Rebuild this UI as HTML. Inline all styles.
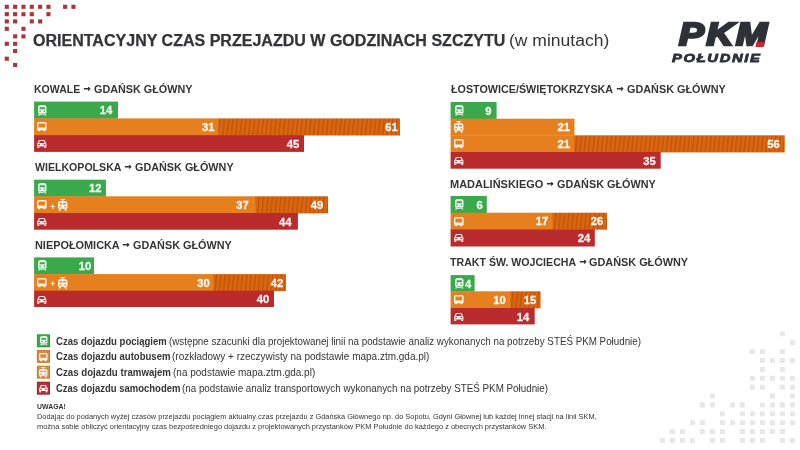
<!DOCTYPE html>
<html lang="pl"><head><meta charset="utf-8"><title>Orientacyjny czas przejazdu w godzinach szczytu</title>
<style>
html,body{margin:0;padding:0}
body{width:800px;height:450px;background:#fff;position:relative;overflow:hidden;font-family:"Liberation Sans",sans-serif;color:#333436}
.t{position:absolute;white-space:nowrap;line-height:1;transform-origin:0 0}
.bars{position:absolute;left:0;top:0}
.num{font-size:11.2px;font-weight:bold;color:rgba(255,255,255,.92);-webkit-text-stroke:.3px rgba(255,255,255,.92)}
.ic{position:absolute;overflow:visible}
.plus{font-size:8.4px;font-weight:bold;color:rgba(255,255,255,.9)}
.pkm{position:absolute;left:679.2px;top:18.1px;font-size:32.2px;line-height:1;font-weight:bold;font-style:italic;color:#2e3138;white-space:nowrap;transform-origin:0 0;transform:scaleX(1.16);-webkit-text-stroke:2.6px #2e3138;letter-spacing:2.2px}
.pol{position:absolute;left:672.2px;top:51.9px;font-size:11.7px;line-height:1;font-weight:bold;font-style:italic;color:#2e3138;white-space:nowrap;transform-origin:0 0;transform:scaleX(1.265);-webkit-text-stroke:.8px #2e3138;letter-spacing:1.3px}
.sq{position:absolute;left:756.3px;top:42.4px;width:7.8px;height:4.6px;background:#d3202b;transform:skewX(-13deg)}
</style></head><body>
<div class="pkm" id="pkm">PKM</div><div class="sq"></div><div class="pol" id="pol">POŁUDNIE</div>
<svg class="bars" width="800" height="450" viewBox="0 0 800 450"><defs><pattern id="hp" width="4.3" height="40" patternUnits="userSpaceOnUse" patternTransform="rotate(6)"><rect width="4.3" height="40" fill="#da6611"/><rect x="2.7" width="1.3" height="40" fill="#bf530a"/></pattern></defs><rect x="4.75" y="4.75" width="4.1" height="4.1" fill="#ab343b"/><rect x="13.08" y="4.75" width="4.1" height="4.1" fill="#ab343b"/><rect x="21.41" y="4.75" width="4.1" height="4.1" fill="#ab343b"/><rect x="29.74" y="4.75" width="4.1" height="4.1" fill="#ab343b"/><rect x="38.07" y="4.75" width="4.1" height="4.1" fill="#ab343b"/><rect x="46.40" y="4.75" width="4.1" height="4.1" fill="#ab343b"/><rect x="63.06" y="4.75" width="4.1" height="4.1" fill="#ab343b"/><rect x="71.39" y="4.75" width="4.1" height="4.1" fill="#ab343b"/><rect x="4.75" y="12.15" width="4.1" height="4.1" fill="#ab343b"/><rect x="13.08" y="12.15" width="4.1" height="4.1" fill="#ab343b"/><rect x="21.41" y="12.15" width="4.1" height="4.1" fill="#ab343b"/><rect x="29.74" y="12.15" width="4.1" height="4.1" fill="#ab343b"/><rect x="46.40" y="12.15" width="4.1" height="4.1" fill="#ab343b"/><rect x="4.75" y="19.35" width="4.1" height="4.1" fill="#ab343b"/><rect x="13.08" y="19.35" width="4.1" height="4.1" fill="#ab343b"/><rect x="29.74" y="19.35" width="4.1" height="4.1" fill="#ab343b"/><rect x="38.07" y="19.35" width="4.1" height="4.1" fill="#ab343b"/><rect x="4.75" y="26.75" width="4.1" height="4.1" fill="#ab343b"/><rect x="21.41" y="26.75" width="4.1" height="4.1" fill="#ab343b"/><rect x="13.08" y="34.35" width="4.1" height="4.1" fill="#ab343b"/><rect x="21.41" y="34.35" width="4.1" height="4.1" fill="#ab343b"/><rect x="4.75" y="41.75" width="4.1" height="4.1" fill="#ab343b"/><rect x="13.08" y="41.75" width="4.1" height="4.1" fill="#ab343b"/><rect x="13.08" y="48.95" width="4.1" height="4.1" fill="#ab343b"/><rect x="4.75" y="56.65" width="4.1" height="4.1" fill="#ab343b"/><rect x="13.08" y="62.95" width="4.1" height="4.1" fill="#ab343b"/><rect x="779.90" y="331.40" width="5" height="4.8" fill="#e7e7e7"/><rect x="789.90" y="340.29" width="5" height="4.8" fill="#e7e7e7"/><rect x="749.90" y="349.18" width="5" height="4.8" fill="#e7e7e7"/><rect x="759.90" y="349.18" width="5" height="4.8" fill="#e7e7e7"/><rect x="779.90" y="349.18" width="5" height="4.8" fill="#e7e7e7"/><rect x="759.90" y="358.07" width="5" height="4.8" fill="#e7e7e7"/><rect x="769.90" y="358.07" width="5" height="4.8" fill="#e7e7e7"/><rect x="779.90" y="358.07" width="5" height="4.8" fill="#e7e7e7"/><rect x="789.90" y="358.07" width="5" height="4.8" fill="#e7e7e7"/><rect x="759.90" y="366.96" width="5" height="4.8" fill="#e7e7e7"/><rect x="779.90" y="366.96" width="5" height="4.8" fill="#e7e7e7"/><rect x="749.90" y="375.85" width="5" height="4.8" fill="#e7e7e7"/><rect x="759.90" y="375.85" width="5" height="4.8" fill="#e7e7e7"/><rect x="769.90" y="375.85" width="5" height="4.8" fill="#e7e7e7"/><rect x="779.90" y="375.85" width="5" height="4.8" fill="#e7e7e7"/><rect x="789.90" y="375.85" width="5" height="4.8" fill="#e7e7e7"/><rect x="749.90" y="384.74" width="5" height="4.8" fill="#e7e7e7"/><rect x="759.90" y="384.74" width="5" height="4.8" fill="#e7e7e7"/><rect x="779.90" y="384.74" width="5" height="4.8" fill="#e7e7e7"/><rect x="789.90" y="384.74" width="5" height="4.8" fill="#e7e7e7"/><rect x="709.90" y="393.63" width="5" height="4.8" fill="#e7e7e7"/><rect x="769.90" y="393.63" width="5" height="4.8" fill="#e7e7e7"/><rect x="789.90" y="393.63" width="5" height="4.8" fill="#e7e7e7"/><rect x="699.90" y="402.52" width="5" height="4.8" fill="#e7e7e7"/><rect x="709.90" y="402.52" width="5" height="4.8" fill="#e7e7e7"/><rect x="729.90" y="402.52" width="5" height="4.8" fill="#e7e7e7"/><rect x="739.90" y="402.52" width="5" height="4.8" fill="#e7e7e7"/><rect x="759.90" y="402.52" width="5" height="4.8" fill="#e7e7e7"/><rect x="769.90" y="402.52" width="5" height="4.8" fill="#e7e7e7"/><rect x="779.90" y="402.52" width="5" height="4.8" fill="#e7e7e7"/><rect x="789.90" y="402.52" width="5" height="4.8" fill="#e7e7e7"/><rect x="719.90" y="411.41" width="5" height="4.8" fill="#e7e7e7"/><rect x="739.90" y="411.41" width="5" height="4.8" fill="#e7e7e7"/><rect x="749.90" y="411.41" width="5" height="4.8" fill="#e7e7e7"/><rect x="759.90" y="411.41" width="5" height="4.8" fill="#e7e7e7"/><rect x="769.90" y="411.41" width="5" height="4.8" fill="#e7e7e7"/><rect x="779.90" y="411.41" width="5" height="4.8" fill="#e7e7e7"/><rect x="789.90" y="411.41" width="5" height="4.8" fill="#e7e7e7"/><rect x="689.90" y="420.30" width="5" height="4.8" fill="#e7e7e7"/><rect x="699.90" y="420.30" width="5" height="4.8" fill="#e7e7e7"/><rect x="719.90" y="420.30" width="5" height="4.8" fill="#e7e7e7"/><rect x="729.90" y="420.30" width="5" height="4.8" fill="#e7e7e7"/><rect x="739.90" y="420.30" width="5" height="4.8" fill="#e7e7e7"/><rect x="749.90" y="420.30" width="5" height="4.8" fill="#e7e7e7"/><rect x="759.90" y="420.30" width="5" height="4.8" fill="#e7e7e7"/><rect x="769.90" y="420.30" width="5" height="4.8" fill="#e7e7e7"/><rect x="779.90" y="420.30" width="5" height="4.8" fill="#e7e7e7"/><rect x="789.90" y="420.30" width="5" height="4.8" fill="#e7e7e7"/><rect x="669.90" y="429.19" width="5" height="4.8" fill="#e7e7e7"/><rect x="679.90" y="429.19" width="5" height="4.8" fill="#e7e7e7"/><rect x="699.90" y="429.19" width="5" height="4.8" fill="#e7e7e7"/><rect x="709.90" y="429.19" width="5" height="4.8" fill="#e7e7e7"/><rect x="719.90" y="429.19" width="5" height="4.8" fill="#e7e7e7"/><rect x="739.90" y="429.19" width="5" height="4.8" fill="#e7e7e7"/><rect x="749.90" y="429.19" width="5" height="4.8" fill="#e7e7e7"/><rect x="759.90" y="429.19" width="5" height="4.8" fill="#e7e7e7"/><rect x="769.90" y="429.19" width="5" height="4.8" fill="#e7e7e7"/><rect x="779.90" y="429.19" width="5" height="4.8" fill="#e7e7e7"/><rect x="659.90" y="438.08" width="5" height="4.8" fill="#e7e7e7"/><rect x="669.90" y="438.08" width="5" height="4.8" fill="#e7e7e7"/><rect x="679.90" y="438.08" width="5" height="4.8" fill="#e7e7e7"/><rect x="689.90" y="438.08" width="5" height="4.8" fill="#e7e7e7"/><rect x="709.90" y="438.08" width="5" height="4.8" fill="#e7e7e7"/><rect x="719.90" y="438.08" width="5" height="4.8" fill="#e7e7e7"/><rect x="739.90" y="438.08" width="5" height="4.8" fill="#e7e7e7"/><rect x="749.90" y="438.08" width="5" height="4.8" fill="#e7e7e7"/><rect x="759.90" y="438.08" width="5" height="4.8" fill="#e7e7e7"/><rect x="779.90" y="438.08" width="5" height="4.8" fill="#e7e7e7"/><rect x="789.90" y="438.08" width="5" height="4.8" fill="#e7e7e7"/><rect x="34.1" y="101.60" width="83.90" height="17.20" fill="#3aa94b"/><rect x="34.1" y="118.40" width="184.90" height="17.10" fill="#e6801f"/><rect x="218.5" y="118.40" width="181.50" height="17.10" fill="url(#hp)"/><rect x="34.1" y="135.10" width="269.90" height="16.80" fill="#ba2b2d"/><rect x="34.1" y="179.70" width="71.80" height="17.00" fill="#3aa94b"/><rect x="34.1" y="196.30" width="221.90" height="17.10" fill="#e6801f"/><rect x="255.5" y="196.30" width="72.50" height="17.10" fill="url(#hp)"/><rect x="34.1" y="213.00" width="263.80" height="16.70" fill="#ba2b2d"/><rect x="34.1" y="257.40" width="59.90" height="17.10" fill="#3aa94b"/><rect x="34.1" y="274.10" width="179.90" height="17.00" fill="#e6801f"/><rect x="213.5" y="274.10" width="72.40" height="17.00" fill="url(#hp)"/><rect x="34.1" y="290.70" width="239.90" height="16.30" fill="#ba2b2d"/><rect x="450.6" y="102.00" width="46.00" height="17.10" fill="#3aa94b"/><rect x="450.6" y="118.70" width="123.90" height="17.00" fill="#e6801f"/><rect x="450.6" y="135.30" width="123.90" height="17.10" fill="#e6801f"/><rect x="574.0" y="135.30" width="210.70" height="17.10" fill="url(#hp)"/><rect x="450.6" y="152.00" width="210.10" height="16.70" fill="#ba2b2d"/><rect x="450.6" y="196.00" width="36.20" height="17.10" fill="#3aa94b"/><rect x="450.6" y="212.70" width="102.40" height="17.00" fill="#e6801f"/><rect x="552.5" y="212.70" width="54.50" height="17.00" fill="url(#hp)"/><rect x="450.6" y="229.30" width="144.20" height="17.20" fill="#ba2b2d"/><rect x="450.6" y="275.10" width="24.00" height="16.60" fill="#3aa94b"/><rect x="450.6" y="291.30" width="60.40" height="17.10" fill="#e6801f"/><rect x="510.5" y="291.30" width="30.10" height="17.10" fill="url(#hp)"/><rect x="450.6" y="308.00" width="84.10" height="16.40" fill="#ba2b2d"/><rect x="36.9" y="334.3" width="13.1" height="13" fill="#2c9a43"/><rect x="37.9" y="335.3" width="11.1" height="11" fill="#39a850"/><rect x="36.9" y="349.9" width="13.1" height="13" fill="#cb7e32"/><rect x="37.9" y="350.9" width="11.1" height="11" fill="#d68b42"/><rect x="36.9" y="365.7" width="13.1" height="13" fill="#cb7e32"/><rect x="37.9" y="366.7" width="11.1" height="11" fill="#d68b42"/><rect x="36.9" y="381.7" width="13.1" height="13" fill="#a2262a"/><rect x="37.9" y="382.7" width="11.1" height="11" fill="#b03034"/></svg>
<svg class="ic" style="left:38.10px;top:104.50px" width="8.5" height="10.5" viewBox="0 0 8.5 10.5" fill="rgba(255,255,255,.9)"><path fill-rule="evenodd" d="M2.4 0h3.700c1.400 0 2.400 1 2.400 2.400v5c0 .6-.4 1-1 1h-6.500c-.6 0-1-.4-1-1v-5c0-1.400 1-2.400 2.400-2.400zM1.600 2.300v1.900h5.300v-1.900zM1.300 5.600v1.200h1.600v-1.200zM5.600 5.600v1.200h1.600v-1.200z"/><path d="M1.200 8.400h1.700l-1.200 2.100h-1.700zM7.300 8.400h-1.700l1.200 2.100h1.700zM1.800 8.900h4.900v.9h-4.900z"/></svg><svg class="ic" style="left:37.10px;top:122.20px" width="9.6" height="9.2" viewBox="0 0 9.6 9.2" fill="rgba(255,255,255,.9)"><path fill-rule="evenodd" d="M1.800 0h6c1 0 1.800 .8 1.800 1.800v5.400c0 .6-.4 1-1 1h-7.600c-.6 0-1-.4-1-1v-5.400c0-1 .8-1.800 1.800-1.800zM1.400 1.400v4.100h6.800v-4.100z"/><rect x="1.200" y="8" width="2" height="1.200"/><rect x="6.400" y="8" width="2" height="1.200"/></svg><svg class="ic" style="left:37.10px;top:139.90px" width="9.5" height="8" viewBox="0 0 9.5 8" fill="rgba(255,255,255,.9)"><path fill-rule="evenodd" d="M2.600 0h4.300c.5 0 .9 .3 1.100 .8l.9 2.300c.4 .2 .6 .6 .6 1v2.500h-9.500v-2.500c0-.4 .2-.8 .6-1l.9-2.300c.2-.5 .6-.8 1.100-.8zM2.700 1.100l-.7 1.800h5.500l-.7-1.800zM1.200 4v1.100h1.700v-1.100zM6.600 4v1.100h1.700v-1.100z"/><rect x=".3" y="6.600" width="2" height="1.400"/><rect x="7.200" y="6.600" width="2" height="1.400"/></svg><svg class="ic" style="left:38.10px;top:182.60px" width="8.5" height="10.5" viewBox="0 0 8.5 10.5" fill="rgba(255,255,255,.9)"><path fill-rule="evenodd" d="M2.4 0h3.700c1.400 0 2.400 1 2.400 2.400v5c0 .6-.4 1-1 1h-6.500c-.6 0-1-.4-1-1v-5c0-1.400 1-2.400 2.400-2.400zM1.600 2.300v1.900h5.300v-1.900zM1.300 5.600v1.200h1.600v-1.200zM5.600 5.600v1.200h1.600v-1.200z"/><path d="M1.200 8.400h1.700l-1.200 2.100h-1.700zM7.300 8.400h-1.700l1.200 2.100h1.700zM1.800 8.900h4.900v.9h-4.900z"/></svg><svg class="ic" style="left:37.10px;top:200.10px" width="9.6" height="9.2" viewBox="0 0 9.6 9.2" fill="rgba(255,255,255,.9)"><path fill-rule="evenodd" d="M1.800 0h6c1 0 1.800 .8 1.800 1.800v5.400c0 .6-.4 1-1 1h-7.600c-.6 0-1-.4-1-1v-5.400c0-1 .8-1.800 1.800-1.800zM1.400 1.400v4.100h6.800v-4.100z"/><rect x="1.200" y="8" width="2" height="1.200"/><rect x="6.400" y="8" width="2" height="1.200"/></svg><div class="t plus" style="left:50.20px;top:203px">+</div><svg class="ic" style="left:58.20px;top:198.80px" width="9.4" height="11.8" viewBox="0 0 9.4 11.8" fill="rgba(255,255,255,.9)"><path d="M2.300 0h4.800v1.100h-1.700v1.500h-1.400v-1.500h-1.700z"/><path fill-rule="evenodd" d="M2.100 2.300h5.200c1.200 0 2.100 .9 2.100 2.100v4.400c0 .6-.4 1-1 1h-7.400c-.6 0-1-.4-1-1v-4.400c0-1.200 .9-2.100 2.100-2.100zM1.400 4.100v1.500h2.800v-1.500zM5.200 4.100v1.500h2.800v-1.500zM1.300 7.300v1.100h1.600v-1.100zM6.500 7.300v1.100h1.600v-1.100z"/><path d="M1.400 9.700h1.800l-.9 2.100h-1.800zM8 9.700h-1.800l.9 2.100h1.800z"/></svg><svg class="ic" style="left:37.10px;top:217.80px" width="9.5" height="8" viewBox="0 0 9.5 8" fill="rgba(255,255,255,.9)"><path fill-rule="evenodd" d="M2.600 0h4.300c.5 0 .9 .3 1.100 .8l.9 2.300c.4 .2 .6 .6 .6 1v2.500h-9.500v-2.500c0-.4 .2-.8 .6-1l.9-2.300c.2-.5 .6-.8 1.100-.8zM2.700 1.100l-.7 1.800h5.500l-.7-1.800zM1.200 4v1.100h1.700v-1.100zM6.600 4v1.100h1.700v-1.100z"/><rect x=".3" y="6.600" width="2" height="1.400"/><rect x="7.200" y="6.600" width="2" height="1.400"/></svg><svg class="ic" style="left:38.10px;top:260.30px" width="8.5" height="10.5" viewBox="0 0 8.5 10.5" fill="rgba(255,255,255,.9)"><path fill-rule="evenodd" d="M2.4 0h3.700c1.400 0 2.400 1 2.400 2.400v5c0 .6-.4 1-1 1h-6.500c-.6 0-1-.4-1-1v-5c0-1.400 1-2.400 2.400-2.400zM1.600 2.300v1.900h5.300v-1.900zM1.300 5.600v1.200h1.600v-1.200zM5.600 5.600v1.200h1.600v-1.200z"/><path d="M1.200 8.400h1.700l-1.200 2.100h-1.700zM7.300 8.400h-1.700l1.200 2.100h1.700zM1.800 8.900h4.900v.9h-4.900z"/></svg><svg class="ic" style="left:37.10px;top:277.90px" width="9.6" height="9.2" viewBox="0 0 9.6 9.2" fill="rgba(255,255,255,.9)"><path fill-rule="evenodd" d="M1.800 0h6c1 0 1.800 .8 1.800 1.800v5.400c0 .6-.4 1-1 1h-7.600c-.6 0-1-.4-1-1v-5.400c0-1 .8-1.800 1.800-1.800zM1.400 1.400v4.100h6.800v-4.100z"/><rect x="1.200" y="8" width="2" height="1.200"/><rect x="6.400" y="8" width="2" height="1.200"/></svg><div class="t plus" style="left:50.20px;top:280px">+</div><svg class="ic" style="left:58.20px;top:276.60px" width="9.4" height="11.8" viewBox="0 0 9.4 11.8" fill="rgba(255,255,255,.9)"><path d="M2.300 0h4.800v1.100h-1.700v1.500h-1.400v-1.500h-1.700z"/><path fill-rule="evenodd" d="M2.100 2.300h5.200c1.200 0 2.100 .9 2.100 2.100v4.400c0 .6-.4 1-1 1h-7.400c-.6 0-1-.4-1-1v-4.400c0-1.200 .9-2.100 2.100-2.100zM1.400 4.100v1.500h2.800v-1.500zM5.200 4.100v1.500h2.800v-1.500zM1.300 7.300v1.100h1.600v-1.100zM6.500 7.300v1.100h1.600v-1.100z"/><path d="M1.400 9.700h1.800l-.9 2.100h-1.800zM8 9.700h-1.800l.9 2.100h1.800z"/></svg><svg class="ic" style="left:37.10px;top:295.50px" width="9.5" height="8" viewBox="0 0 9.5 8" fill="rgba(255,255,255,.9)"><path fill-rule="evenodd" d="M2.600 0h4.300c.5 0 .9 .3 1.100 .8l.9 2.300c.4 .2 .6 .6 .6 1v2.500h-9.500v-2.500c0-.4 .2-.8 .6-1l.9-2.300c.2-.5 .6-.8 1.100-.8zM2.700 1.100l-.7 1.800h5.500l-.7-1.800zM1.200 4v1.100h1.700v-1.100zM6.600 4v1.100h1.700v-1.100z"/><rect x=".3" y="6.600" width="2" height="1.400"/><rect x="7.200" y="6.600" width="2" height="1.400"/></svg><svg class="ic" style="left:454.60px;top:104.90px" width="8.5" height="10.5" viewBox="0 0 8.5 10.5" fill="rgba(255,255,255,.9)"><path fill-rule="evenodd" d="M2.4 0h3.700c1.400 0 2.400 1 2.400 2.400v5c0 .6-.4 1-1 1h-6.500c-.6 0-1-.4-1-1v-5c0-1.400 1-2.400 2.400-2.400zM1.600 2.300v1.900h5.300v-1.900zM1.300 5.600v1.200h1.600v-1.200zM5.600 5.600v1.200h1.600v-1.200z"/><path d="M1.200 8.400h1.700l-1.200 2.100h-1.700zM7.300 8.400h-1.700l1.200 2.100h1.700zM1.800 8.900h4.900v.9h-4.900z"/></svg><svg class="ic" style="left:454.20px;top:121.30px" width="9.4" height="11.8" viewBox="0 0 9.4 11.8" fill="rgba(255,255,255,.9)"><path d="M2.300 0h4.800v1.100h-1.700v1.500h-1.400v-1.500h-1.700z"/><path fill-rule="evenodd" d="M2.100 2.300h5.200c1.200 0 2.100 .9 2.100 2.100v4.400c0 .6-.4 1-1 1h-7.400c-.6 0-1-.4-1-1v-4.400c0-1.200 .9-2.100 2.100-2.100zM1.400 4.100v1.500h2.800v-1.500zM5.200 4.100v1.500h2.800v-1.500zM1.300 7.300v1.100h1.600v-1.100zM6.500 7.300v1.100h1.600v-1.100z"/><path d="M1.400 9.700h1.800l-.9 2.100h-1.800zM8 9.700h-1.800l.9 2.100h1.800z"/></svg><svg class="ic" style="left:453.60px;top:139.10px" width="9.6" height="9.2" viewBox="0 0 9.6 9.2" fill="rgba(255,255,255,.9)"><path fill-rule="evenodd" d="M1.800 0h6c1 0 1.800 .8 1.800 1.800v5.400c0 .6-.4 1-1 1h-7.600c-.6 0-1-.4-1-1v-5.400c0-1 .8-1.800 1.800-1.800zM1.400 1.400v4.100h6.800v-4.100z"/><rect x="1.200" y="8" width="2" height="1.200"/><rect x="6.400" y="8" width="2" height="1.200"/></svg><svg class="ic" style="left:453.60px;top:156.80px" width="9.5" height="8" viewBox="0 0 9.5 8" fill="rgba(255,255,255,.9)"><path fill-rule="evenodd" d="M2.600 0h4.300c.5 0 .9 .3 1.100 .8l.9 2.300c.4 .2 .6 .6 .6 1v2.500h-9.500v-2.500c0-.4 .2-.8 .6-1l.9-2.300c.2-.5 .6-.8 1.100-.8zM2.700 1.100l-.7 1.800h5.500l-.7-1.800zM1.200 4v1.100h1.700v-1.100zM6.600 4v1.100h1.700v-1.100z"/><rect x=".3" y="6.600" width="2" height="1.400"/><rect x="7.200" y="6.600" width="2" height="1.400"/></svg><svg class="ic" style="left:454.60px;top:198.90px" width="8.5" height="10.5" viewBox="0 0 8.5 10.5" fill="rgba(255,255,255,.9)"><path fill-rule="evenodd" d="M2.4 0h3.700c1.400 0 2.400 1 2.400 2.400v5c0 .6-.4 1-1 1h-6.500c-.6 0-1-.4-1-1v-5c0-1.400 1-2.400 2.400-2.400zM1.600 2.300v1.900h5.300v-1.900zM1.300 5.600v1.200h1.600v-1.200zM5.600 5.600v1.200h1.600v-1.200z"/><path d="M1.200 8.400h1.700l-1.200 2.100h-1.700zM7.300 8.400h-1.700l1.200 2.100h1.700zM1.800 8.900h4.900v.9h-4.900z"/></svg><svg class="ic" style="left:453.60px;top:216.50px" width="9.6" height="9.2" viewBox="0 0 9.6 9.2" fill="rgba(255,255,255,.9)"><path fill-rule="evenodd" d="M1.800 0h6c1 0 1.800 .8 1.800 1.800v5.400c0 .6-.4 1-1 1h-7.600c-.6 0-1-.4-1-1v-5.400c0-1 .8-1.800 1.800-1.800zM1.400 1.400v4.100h6.800v-4.100z"/><rect x="1.200" y="8" width="2" height="1.200"/><rect x="6.400" y="8" width="2" height="1.200"/></svg><svg class="ic" style="left:453.60px;top:234.10px" width="9.5" height="8" viewBox="0 0 9.5 8" fill="rgba(255,255,255,.9)"><path fill-rule="evenodd" d="M2.600 0h4.300c.5 0 .9 .3 1.100 .8l.9 2.300c.4 .2 .6 .6 .6 1v2.500h-9.500v-2.500c0-.4 .2-.8 .6-1l.9-2.300c.2-.5 .6-.8 1.100-.8zM2.700 1.100l-.7 1.800h5.500l-.7-1.800zM1.200 4v1.100h1.700v-1.100zM6.600 4v1.100h1.700v-1.100z"/><rect x=".3" y="6.600" width="2" height="1.400"/><rect x="7.200" y="6.600" width="2" height="1.400"/></svg><svg class="ic" style="left:454.60px;top:278.00px" width="8.5" height="10.5" viewBox="0 0 8.5 10.5" fill="rgba(255,255,255,.9)"><path fill-rule="evenodd" d="M2.4 0h3.700c1.400 0 2.400 1 2.400 2.400v5c0 .6-.4 1-1 1h-6.500c-.6 0-1-.4-1-1v-5c0-1.400 1-2.400 2.400-2.400zM1.600 2.300v1.900h5.300v-1.900zM1.300 5.600v1.200h1.600v-1.200zM5.600 5.600v1.200h1.600v-1.200z"/><path d="M1.200 8.400h1.700l-1.200 2.100h-1.700zM7.300 8.400h-1.700l1.200 2.100h1.700zM1.800 8.900h4.900v.9h-4.900z"/></svg><svg class="ic" style="left:453.60px;top:295.10px" width="9.6" height="9.2" viewBox="0 0 9.6 9.2" fill="rgba(255,255,255,.9)"><path fill-rule="evenodd" d="M1.800 0h6c1 0 1.800 .8 1.800 1.800v5.400c0 .6-.4 1-1 1h-7.600c-.6 0-1-.4-1-1v-5.400c0-1 .8-1.800 1.800-1.800zM1.400 1.400v4.100h6.800v-4.100z"/><rect x="1.200" y="8" width="2" height="1.200"/><rect x="6.400" y="8" width="2" height="1.200"/></svg><svg class="ic" style="left:453.60px;top:312.80px" width="9.5" height="8" viewBox="0 0 9.5 8" fill="rgba(255,255,255,.9)"><path fill-rule="evenodd" d="M2.600 0h4.300c.5 0 .9 .3 1.100 .8l.9 2.300c.4 .2 .6 .6 .6 1v2.500h-9.500v-2.500c0-.4 .2-.8 .6-1l.9-2.300c.2-.5 .6-.8 1.100-.8zM2.700 1.100l-.7 1.800h5.500l-.7-1.800zM1.200 4v1.100h1.700v-1.100zM6.600 4v1.100h1.700v-1.100z"/><rect x=".3" y="6.600" width="2" height="1.400"/><rect x="7.200" y="6.600" width="2" height="1.400"/></svg>
<div class="t num" style="left:99.76px;top:105px;transform:scaleX(1.0)">14</div><div class="t num" style="left:385.26px;top:122px;transform:scaleX(1.0)">61</div><div class="t num" style="left:202.06px;top:122px;transform:scaleX(1.0)">31</div><div class="t num" style="left:286.76px;top:139px;transform:scaleX(1.0)">45</div><div class="t num" style="left:88.96px;top:183px;transform:scaleX(1.0)">12</div><div class="t num" style="left:310.86px;top:200px;transform:scaleX(1.0)">49</div><div class="t num" style="left:236.26px;top:200px;transform:scaleX(1.0)">37</div><div class="t num" style="left:279.01px;top:217px;transform:scaleX(1.0)">44</div><div class="t num" style="left:78.86px;top:261px;transform:scaleX(1.0)">10</div><div class="t num" style="left:270.86px;top:278px;transform:scaleX(1.0)">42</div><div class="t num" style="left:197.16px;top:278px;transform:scaleX(1.0)">30</div><div class="t num" style="left:256.86px;top:294px;transform:scaleX(1.0)">40</div><div class="t num" style="left:485.23px;top:106px;transform:scaleX(1.0)">9</div><div class="t num" style="left:557.51px;top:122px;transform:scaleX(1.0)">21</div><div class="t num" style="left:767.36px;top:139px;transform:scaleX(1.0)">56</div><div class="t num" style="left:557.51px;top:139px;transform:scaleX(1.0)">21</div><div class="t num" style="left:643.36px;top:156px;transform:scaleX(1.0)">35</div><div class="t num" style="left:476.58px;top:200px;transform:scaleX(1.0)">6</div><div class="t num" style="left:590.76px;top:216px;transform:scaleX(1.0)">26</div><div class="t num" style="left:535.76px;top:216px;transform:scaleX(1.0)">17</div><div class="t num" style="left:577.76px;top:233px;transform:scaleX(1.0)">24</div><div class="t num" style="left:465.08px;top:279px;transform:scaleX(1.0)">4</div><div class="t num" style="left:523.76px;top:295px;transform:scaleX(1.0)">15</div><div class="t num" style="left:493.26px;top:295px;transform:scaleX(1.0)">10</div><div class="t num" style="left:516.66px;top:312px;transform:scaleX(1.0)">14</div>
<svg class="ic" style="left:39.80px;top:336.40px" width="7.5" height="9.3" viewBox="0 0 8.5 10.5" fill="rgba(255,255,255,.9)"><path fill-rule="evenodd" d="M2.4 0h3.700c1.400 0 2.400 1 2.400 2.400v5c0 .6-.4 1-1 1h-6.500c-.6 0-1-.4-1-1v-5c0-1.400 1-2.400 2.400-2.400zM1.600 2.300v1.900h5.300v-1.900zM1.300 5.600v1.200h1.600v-1.200zM5.600 5.600v1.200h1.600v-1.200z"/><path d="M1.200 8.400h1.700l-1.200 2.100h-1.700zM7.300 8.400h-1.700l1.200 2.100h1.700zM1.800 8.900h4.900v.9h-4.900z"/></svg><svg class="ic" style="left:39.00px;top:352.60px" width="8.5" height="8.1" viewBox="0 0 9.6 9.2" fill="rgba(255,255,255,.9)"><path fill-rule="evenodd" d="M1.800 0h6c1 0 1.800 .8 1.800 1.800v5.400c0 .6-.4 1-1 1h-7.600c-.6 0-1-.4-1-1v-5.400c0-1 .8-1.800 1.800-1.800zM1.400 1.400v4.100h6.800v-4.100z"/><rect x="1.200" y="8" width="2" height="1.200"/><rect x="6.400" y="8" width="2" height="1.200"/></svg><svg class="ic" style="left:39.00px;top:367.20px" width="8.4" height="10.6" viewBox="0 0 9.4 11.8" fill="rgba(255,255,255,.9)"><path d="M2.300 0h4.800v1.100h-1.700v1.500h-1.400v-1.500h-1.700z"/><path fill-rule="evenodd" d="M2.100 2.300h5.200c1.200 0 2.100 .9 2.100 2.100v4.400c0 .6-.4 1-1 1h-7.400c-.6 0-1-.4-1-1v-4.400c0-1.200 .9-2.100 2.100-2.100zM1.400 4.100v1.500h2.800v-1.500zM5.200 4.100v1.500h2.800v-1.500zM1.300 7.300v1.100h1.600v-1.100zM6.500 7.300v1.100h1.600v-1.100z"/><path d="M1.400 9.700h1.800l-.9 2.100h-1.800zM8 9.700h-1.800l.9 2.100h1.800z"/></svg><svg class="ic" style="left:38.90px;top:384.80px" width="8.8" height="7.4" viewBox="0 0 9.5 8" fill="rgba(255,255,255,.9)"><path fill-rule="evenodd" d="M2.600 0h4.300c.5 0 .9 .3 1.100 .8l.9 2.300c.4 .2 .6 .6 .6 1v2.500h-9.500v-2.500c0-.4 .2-.8 .6-1l.9-2.300c.2-.5 .6-.8 1.100-.8zM2.700 1.100l-.7 1.800h5.500l-.7-1.800zM1.200 4v1.100h1.700v-1.100zM6.600 4v1.100h1.700v-1.100z"/><rect x=".3" y="6.600" width="2" height="1.400"/><rect x="7.200" y="6.600" width="2" height="1.400"/></svg>
<div class="t" id="title" style="left:33.49px;top:33px;font-size:15.60px;font-weight:bold;color:#333436;transform:scaleX(1.0280);-webkit-text-stroke:.25px;">ORIENTACYJNY CZAS PRZEJAZDU W GODZINACH SZCZYTU</div><div class="t" id="title2" style="left:509.28px;top:33px;font-size:15.60px;font-weight:normal;color:#333436;transform:scaleX(1.1233);">(w minutach)</div><div class="t" id="h1lw" style="left:34.15px;top:84px;font-size:10.90px;font-weight:bold;color:#333436;transform:scaleX(0.9686);">KOWALE</div><div class="t" id="h1lg" style="left:94.30px;top:84px;font-size:10.90px;font-weight:bold;color:#333436;transform:scaleX(0.9919);">GDAŃSK GŁÓWNY</div><div class="t" id="h1la" style="left:82.48px;top:81px;font-size:12.20px;font-weight:bold;color:#333436;transform:scaleX(0.8082);-webkit-text-stroke:.9px;">→</div><div class="t" id="h2lw" style="left:34.50px;top:162px;font-size:10.90px;font-weight:bold;color:#333436;transform:scaleX(0.9716);">WIELKOPOLSKA</div><div class="t" id="h2lg" style="left:135.00px;top:162px;font-size:10.90px;font-weight:bold;color:#333436;transform:scaleX(0.9939);">GDAŃSK GŁÓWNY</div><div class="t" id="h2la" style="left:123.16px;top:159px;font-size:12.20px;font-weight:bold;color:#333436;transform:scaleX(0.8082);-webkit-text-stroke:.9px;">→</div><div class="t" id="h3lw" style="left:34.53px;top:240px;font-size:10.90px;font-weight:bold;color:#333436;transform:scaleX(1.0004);">NIEPOŁOMICKA</div><div class="t" id="h3lg" style="left:132.75px;top:240px;font-size:10.90px;font-weight:bold;color:#333436;transform:scaleX(0.9954);">GDAŃSK GŁÓWNY</div><div class="t" id="h3la" style="left:121.16px;top:237px;font-size:12.20px;font-weight:bold;color:#333436;transform:scaleX(0.8082);-webkit-text-stroke:.9px;">→</div><div class="t" id="h1rw" style="left:451.00px;top:84px;font-size:10.90px;font-weight:bold;color:#333436;transform:scaleX(0.9873);">ŁOSTOWICE/ŚWIĘTOKRZYSKA</div><div class="t" id="h1rg" style="left:626.60px;top:84px;font-size:10.90px;font-weight:bold;color:#333436;transform:scaleX(0.9949);">GDAŃSK GŁÓWNY</div><div class="t" id="h1ra" style="left:615.01px;top:81px;font-size:12.20px;font-weight:bold;color:#333436;transform:scaleX(0.8082);-webkit-text-stroke:.9px;">→</div><div class="t" id="h2rw" style="left:449.53px;top:179px;font-size:10.90px;font-weight:bold;color:#333436;transform:scaleX(1.0077);">MADALIŃSKIEGO</div><div class="t" id="h2rg" style="left:556.80px;top:179px;font-size:10.90px;font-weight:bold;color:#333436;transform:scaleX(0.9949);">GDAŃSK GŁÓWNY</div><div class="t" id="h2ra" style="left:544.93px;top:176px;font-size:12.20px;font-weight:bold;color:#333436;transform:scaleX(0.8082);-webkit-text-stroke:.9px;">→</div><div class="t" id="h3rw" style="left:449.84px;top:257px;font-size:10.90px;font-weight:bold;color:#333436;transform:scaleX(0.9740);">TRAKT ŚW. WOJCIECHA</div><div class="t" id="h3rg" style="left:589.15px;top:257px;font-size:10.90px;font-weight:bold;color:#333436;transform:scaleX(0.9985);">GDAŃSK GŁÓWNY</div><div class="t" id="h3ra" style="left:577.73px;top:254px;font-size:12.20px;font-weight:bold;color:#333436;transform:scaleX(0.8082);-webkit-text-stroke:.9px;">→</div><div class="t" id="l1b" style="left:56.15px;top:336px;font-size:10.60px;font-weight:bold;color:#333436;transform:scaleX(0.9000);">Czas dojazdu pociągiem</div><div class="t" id="l1r" style="left:168.88px;top:336px;font-size:10.60px;font-weight:normal;color:#333436;transform:scaleX(0.9245);">(wstępne szacunki dla projektowanej linii na podstawie analiz wykonanych na potrzeby STEŚ PKM Południe)</div><div class="t" id="l2b" style="left:56.15px;top:351px;font-size:10.60px;font-weight:bold;color:#333436;transform:scaleX(0.9000);">Czas dojazdu autobusem</div><div class="t" id="l2r" style="left:172.37px;top:351px;font-size:10.60px;font-weight:normal;color:#333436;transform:scaleX(0.9429);">(rozkładowy + rzeczywisty na podstawie mapa.ztm.gda.pl)</div><div class="t" id="l3b" style="left:56.14px;top:367px;font-size:10.60px;font-weight:bold;color:#333436;transform:scaleX(0.9124);">Czas dojazdu tramwajem</div><div class="t" id="l3r" style="left:172.87px;top:367px;font-size:10.60px;font-weight:normal;color:#333436;transform:scaleX(0.9435);">(na podstawie mapa.ztm.gda.pl)</div><div class="t" id="l4b" style="left:56.15px;top:383px;font-size:10.60px;font-weight:bold;color:#333436;transform:scaleX(0.8953);">Czas dojazdu samochodem</div><div class="t" id="l4r" style="left:182.38px;top:383px;font-size:10.60px;font-weight:normal;color:#333436;transform:scaleX(0.9263);">(na podstawie analiz transportowych wykonanych na potrzeby STEŚ PKM Południe)</div><div class="t" id="f1" style="left:36.83px;top:403px;font-size:7.30px;font-weight:bold;color:#333436;transform:scaleX(0.9497);">UWAGA!</div><div class="t" id="f2" style="left:36.62px;top:413px;font-size:7.30px;font-weight:normal;color:#333436;transform:scaleX(1.0169);">Dodając do podanych wyżej czasów przejazdu pociągiem aktualny czas przejazdu z Gdańska Głównego np. do Sopotu, Gdyni Głównej lub każdej innej stacji na linii SKM,</div><div class="t" id="f3" style="left:36.69px;top:423px;font-size:7.30px;font-weight:normal;color:#333436;transform:scaleX(1.0205);">można sobie obliczyć orientacyjny czas bezpośredniego dojazdu z projektowanych przystanków PKM Południe do każdego z obecnych przystanków SKM.</div>
</body></html>
